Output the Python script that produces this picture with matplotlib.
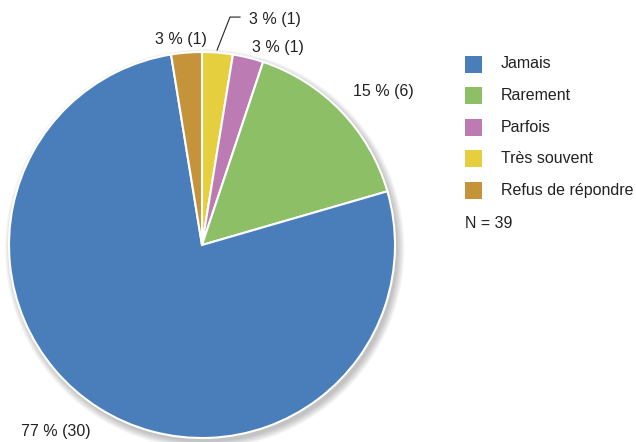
import matplotlib.pyplot as plt
from matplotlib.patches import Circle, Rectangle

plt.rcParams['font.family'] = ['Liberation Sans', 'DejaVu Sans']

# données
categories = ['Jamais', 'Rarement', 'Parfois', 'Très souvent', 'Refus de répondre']
effectifs = [30, 6, 1, 1, 1]
couleurs = ['#4a7ebb', '#8dbf66', '#bd7bb4', '#e5cf3f', '#c4933a']
n_total = 39

# ordre du camembert (sens horaire depuis le haut)
ordre_pie = [3, 2, 1, 0, 4]
# positions des étiquettes (coord. données du camembert)
pos_labels = {0: (-0.756, -0.964), 1: (0.938, 0.793), 2: (0.394, 1.021),
              3: (0.378, 1.166), 4: (-0.109, 1.067)}

fig = plt.figure(figsize=(6.36, 4.42), dpi=100)
R = 193
ax = fig.add_axes([(202 - R) / 636, (442 - 245 - R) / 442, 2 * R / 636, 2 * R / 442])

# ombre douce
for i in range(8):
    ax.add_patch(Circle((0.014, -0.02), 1.0 + i * 0.005, color='black',
                        alpha=0.03, lw=0, zorder=0, clip_on=False))

vals = [effectifs[i] for i in ordre_pie]
cols = [couleurs[i] for i in ordre_pie]
wedges, _ = ax.pie(vals, colors=cols, startangle=90, counterclock=False, radius=1,
                   wedgeprops=dict(edgecolor='white', linewidth=1.5), frame=True)
for w in wedges:
    w.set_clip_on(False)
ax.set_xlim(-1, 1)
ax.set_ylim(-1, 1)
ax.set_aspect('equal')
ax.axis('off')

for i, v in enumerate(effectifs):
    pct = round(100 * v / n_total)
    x, y = pos_labels[i]
    ax.text(x, y, f'{pct} % ({v})', ha='center', va='center', fontsize=11.5,
            color='#222222', clip_on=False)

# trait de rappel pour "Très souvent"
ax.plot([0.078, 0.145, 0.197], [1.010, 1.181, 1.181], color='#222222', lw=0.8,
        clip_on=False)

# légende
for k, (cat, c) in enumerate(zip(categories, couleurs)):
    yc = 64 + k * 31.6
    fig.add_artist(Rectangle((465 / 636, 1 - (yc + 8.5) / 442), 17 / 636, 17 / 442,
                             facecolor=c, edgecolor='none', transform=fig.transFigure))
    fig.text(501 / 636, 1 - yc / 442, cat, ha='left', va='center', fontsize=11.5,
             color='#222222')
fig.text(465 / 636, 1 - 224 / 442, f'N = {n_total}', ha='left', va='center',
         fontsize=11.5, color='#222222')

fig.savefig('out.png', dpi=100)
